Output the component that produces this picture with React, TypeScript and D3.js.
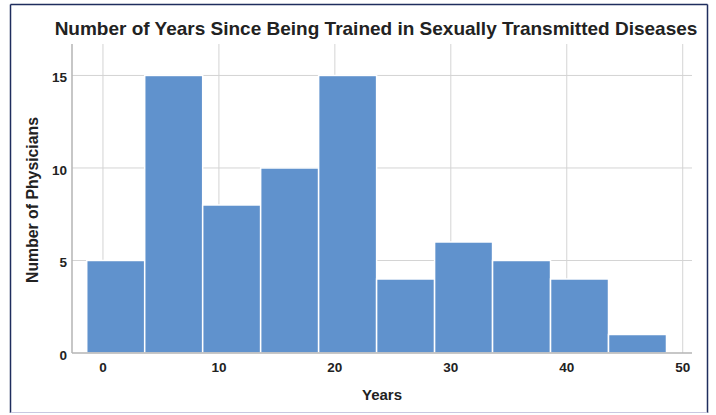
import React from "react";
import * as d3 from "d3";

// Histogram bins (years since training), 5-year wide, starting just below 0
const binStarts = [-1.4, 3.6, 8.6, 13.6, 18.6, 23.6, 28.6, 33.6, 38.6, 43.6];
const binWidth = 5;
const counts = [5, 15, 8, 10, 15, 4, 6, 5, 4, 1];
const xTicks = [0, 10, 20, 30, 40, 50];
const yTicks = [0, 5, 10, 15];

const width = 716;
const height = 415;
const margin = { top: 44, right: 24, bottom: 62, left: 72 };

const font = "'Liberation Sans', Arial, sans-serif";

const App: React.FC = () => {
  const x = d3
    .scaleLinear()
    .domain([-2.67, 50.8])
    .range([margin.left, width - margin.right]);

  const y = d3
    .scaleLinear()
    .domain([0, 16.7])
    .range([height - margin.bottom, margin.top]);

  const bottom = y(0);
  const plotTop = margin.top;

  return (
    <div style={{ position: "absolute", left: 0, top: 0 }}>
      <svg width={width} height={height} style={{ display: "block", background: "#fff" }}>
        {/* frame */}
        <line x1={10.5} y1={4.5} x2={707.5} y2={4.5} stroke="#1f2d5e" strokeWidth={1.5} />
        <line x1={10.5} y1={4.5} x2={10.5} y2={413} stroke="#1f2d5e" strokeWidth={1.5} />
        <line x1={707.5} y1={4.5} x2={707.5} y2={413} stroke="#1f2d5e" strokeWidth={1.5} />
        <line x1={10.5} y1={412.5} x2={707.5} y2={412.5} stroke="#c8c8e0" strokeWidth={1} />

        {/* title */}
        <text
          x={376}
          y={35}
          textAnchor="middle"
          fontFamily={font}
          fontWeight="bold"
          fontSize={19}
          fill="#222"
        >
          Number of Years Since Being Trained in Sexually Transmitted Diseases
        </text>

        {/* gridlines */}
        {xTicks.map((t) => (
          <line
            key={"gx" + t}
            x1={x(t)}
            x2={x(t)}
            y1={plotTop}
            y2={bottom}
            stroke="#d4d4d4"
            strokeWidth={1}
          />
        ))}
        {yTicks
          .filter((t) => t > 0)
          .map((t) => (
            <line
              key={"gy" + t}
              x1={margin.left}
              x2={width - margin.right}
              y1={y(t)}
              y2={y(t)}
              stroke="#d4d4d4"
              strokeWidth={1}
            />
          ))}

        {/* bars */}
        {counts.map((c, i) => (
          <rect
            key={i}
            x={x(binStarts[i])}
            y={y(c)}
            width={x(binStarts[i] + binWidth) - x(binStarts[i])}
            height={bottom - y(c)}
            fill="#6092cd"
            stroke="#ffffff"
            strokeWidth={1.5}
          />
        ))}

        {/* axes */}
        <line x1={margin.left} x2={margin.left} y1={plotTop} y2={bottom} stroke="#b4b4b4" strokeWidth={1.5} />
        <line x1={margin.left} x2={width - margin.right} y1={bottom} y2={bottom} stroke="#b4b4b4" strokeWidth={1.5} />

        {/* y tick labels */}
        {yTicks.map((t) => (
          <text
            key={"ty" + t}
            x={margin.left - 5}
            y={y(t) + 7}
            textAnchor="end"
            fontFamily={font}
            fontSize={13.5}
            fontWeight={600}
            fill="#222"
          >
            {t}
          </text>
        ))}

        {/* x tick labels */}
        {xTicks.map((t) => (
          <text
            key={"tx" + t}
            x={x(t)}
            y={bottom + 19}
            textAnchor="middle"
            fontFamily={font}
            fontSize={13.5}
            fontWeight={600}
            fill="#222"
          >
            {t}
          </text>
        ))}

        {/* axis titles */}
        <text
          x={382}
          y={400}
          textAnchor="middle"
          fontFamily={font}
          fontWeight="bold"
          fontSize={15}
          fill="#222"
        >
          Years
        </text>
        <text
          transform={`translate(38, ${200}) rotate(-90)`}
          textAnchor="middle"
          fontFamily={font}
          fontWeight="bold"
          fontSize={15.8}
          fill="#222"
        >
          Number of Physicians
        </text>
      </svg>
    </div>
  );
};

export default App;
